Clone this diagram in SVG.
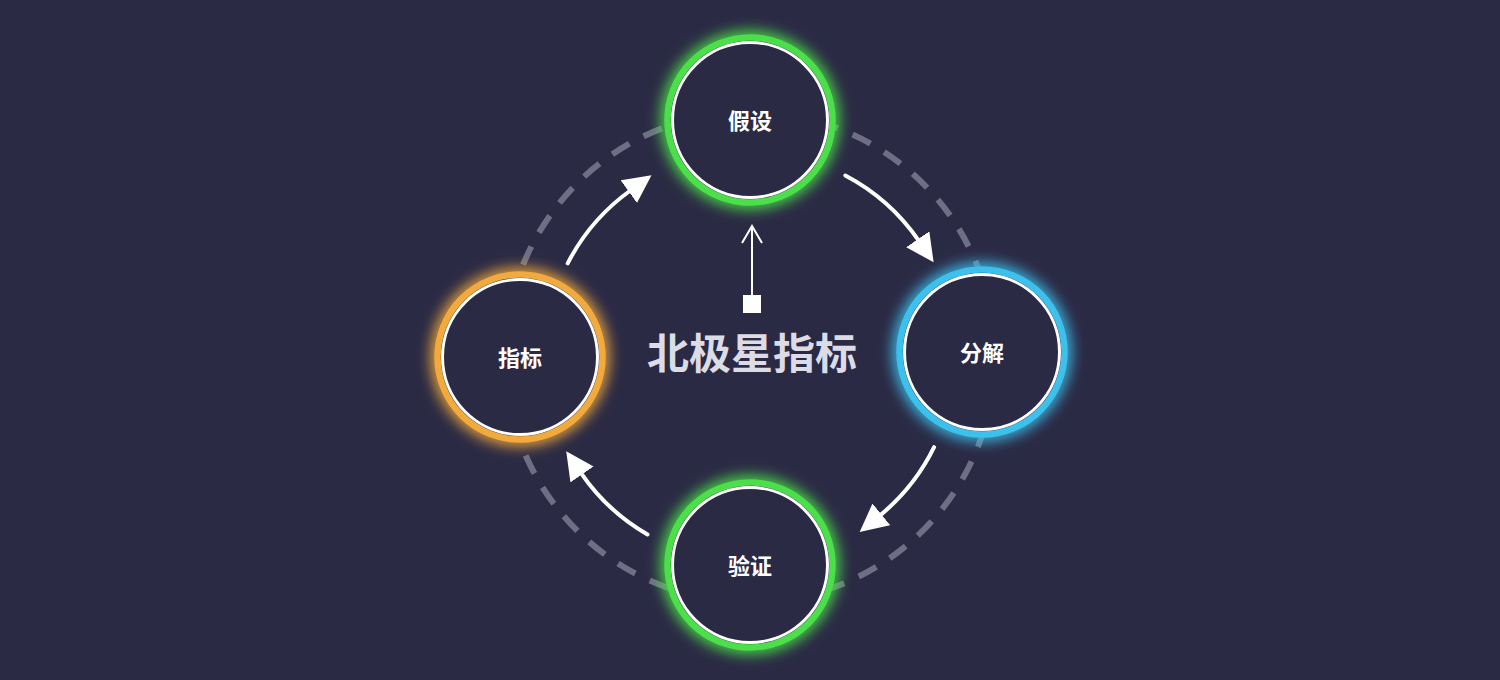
<svg xmlns="http://www.w3.org/2000/svg" width="1500" height="680" viewBox="0 0 1500 680">
<defs>
<style>
.ring{fill:#2b2a45;stroke-width:6.5}
.inner{fill:none;stroke:#ffffff;stroke-width:3}
.glow{fill:none;stroke-width:14;filter:url(#blur)}
.lbl{font-family:"Noto Sans CJK SC","Noto Sans",sans-serif;font-weight:700;font-size:22px;fill:#ffffff;text-anchor:middle}
.arc{fill:none;stroke:#ffffff;stroke-width:4;stroke-linecap:round}
</style>
<filter id="blur" x="-50%" y="-50%" width="200%" height="200%"><feGaussianBlur stdDeviation="7"/></filter>
<marker id="head" markerUnits="userSpaceOnUse" markerWidth="30" markerHeight="30" viewBox="0 0 30 30" refX="2" refY="14" orient="auto"><path d="M0,0 L28,14 L0,28 z" fill="#ffffff"/></marker>
</defs>
<rect width="1500" height="680" fill="#2b2a45"/>
<g id="cycle">
<circle cx="750" cy="357" r="245" fill="none" stroke="#6e6f84" stroke-width="6" stroke-dasharray="20 16"/>
</g>
<g id="connectors">
<path class="arc" d="M567.7,263.3 A205,205 0 0 1 630.4,190.5" marker-end="url(#head)"/>
<path class="arc" d="M845.3,175.5 A205,205 0 0 1 918.9,240.9" marker-end="url(#head)"/>
<path class="arc" d="M934.1,447.2 A205,205 0 0 1 879.8,515.6" marker-end="url(#head)"/>
<path class="arc" d="M647.5,534.5 A205,205 0 0 1 580.9,472.8" marker-end="url(#head)"/>
<line x1="752" y1="296" x2="752" y2="227" stroke="#ffffff" stroke-width="2"/>
<polyline points="742,243 752,226 762,243" fill="none" stroke="#ffffff" stroke-width="2"/>
<rect x="743" y="295" width="18" height="18" fill="#ffffff"/>
</g>
<g id="node-hypothesis">
<circle class="glow" cx="750" cy="120" r="82" stroke="#4be04a"/>
<circle class="ring" cx="750" cy="120" r="82.5" stroke="#4be04a"/>
<circle class="inner" cx="750" cy="120" r="77.5"/>
<text class="lbl" x="750" y="129">假设</text>
</g>
<g id="node-decompose">
<circle class="glow" cx="982" cy="352" r="82" stroke="#3cc0ec"/>
<circle class="ring" cx="982" cy="352" r="82.5" stroke="#3cc0ec"/>
<circle class="inner" cx="982" cy="352" r="77.5"/>
<text class="lbl" x="982" y="361">分解</text>
</g>
<g id="node-verify">
<circle class="glow" cx="750" cy="565" r="82" stroke="#4be04a"/>
<circle class="ring" cx="750" cy="565" r="82.5" stroke="#4be04a"/>
<circle class="inner" cx="750" cy="565" r="77.5"/>
<text class="lbl" x="750" y="574">验证</text>
</g>
<g id="node-metric">
<circle class="glow" cx="520" cy="357" r="82" stroke="#f2aa3c"/>
<circle class="ring" cx="520" cy="357" r="82.5" stroke="#f2aa3c"/>
<circle class="inner" cx="520" cy="357" r="77.5"/>
<text class="lbl" x="520" y="366">指标</text>
</g>
<g id="title">
<text x="752" y="369" font-family="'Noto Sans CJK SC','Noto Sans',sans-serif" font-weight="700" font-size="42" fill="#dcdce6" text-anchor="middle">北极星指标</text>
</g>
</svg>
